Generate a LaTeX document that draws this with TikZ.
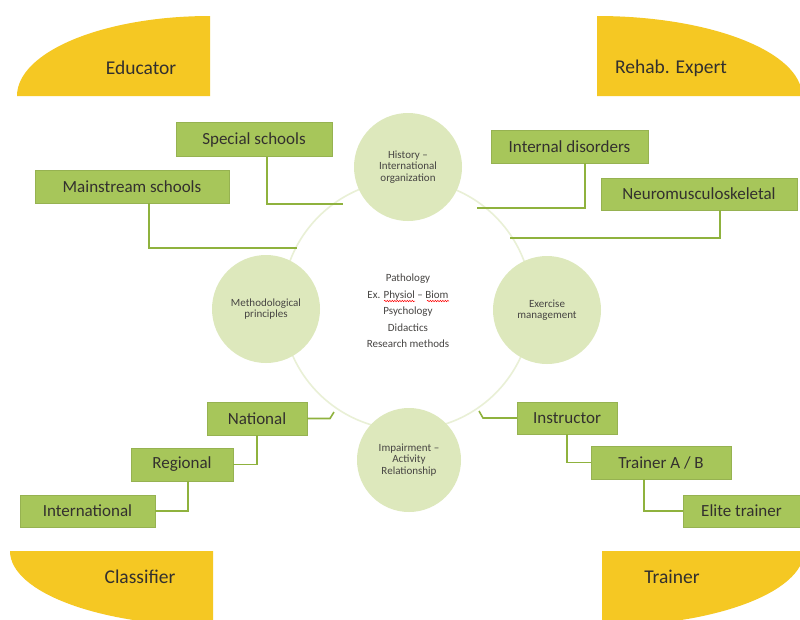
\documentclass[tikz,border=0pt]{standalone}
\usepackage{fontspec}
\setmainfont{Carlito}
\usetikzlibrary{decorations.pathmorphing}
\definecolor{gold}{HTML}{F5C823}
\definecolor{boxg}{HTML}{A7C65A}
\definecolor{lineg}{HTML}{8FB23E}
\definecolor{satg}{HTML}{DDE8BC}
\definecolor{ringg}{HTML}{E9F0D6}
\definecolor{txt}{HTML}{33302E}
\begin{document}
\begin{tikzpicture}[x=1pt,y=-1pt,
  gbox/.style={fill=boxg, draw=boxg!90!black, line width=0.4pt, inner sep=0pt, text=txt, font=\fontsize{17}{20}\selectfont},
  ylab/.style={text=txt, font=\fontsize{19.5}{23}\selectfont},
  sat/.style={circle, fill=satg, inner sep=0pt, minimum size=108pt, align=center, text=txt!90, font=\fontsize{11}{11.5}\selectfont},
  conn/.style={draw=lineg, line width=1.6pt},
  rolefill/.style={fill=gold}]
\useasboundingbox (0,0) rectangle (800,619);
\fill[white] (0,0) rectangle (800,619);

% yellow role shapes
\fill[rolefill] (17,96) arc[start angle=180, end angle=270, x radius=193, y radius=80] -- (210,96) -- cycle;
\fill[rolefill] (597,96) -- (597,16) arc[start angle=270, end angle=360, x radius=205, y radius=80] -- cycle;
\fill[rolefill] (10,551) arc[start angle=180, end angle=90, x radius=203, y radius=75] -- (213,551) -- cycle;
\fill[rolefill] (602,551) -- (804,551) arc[start angle=0, end angle=90, x radius=202, y radius=75] -- cycle;
\node[ylab] (educator) at (141,68) {Educator};
\node[ylab] (rehab) at (671,68) {Rehab. Expert};
\node[ylab] (classifier) at (140,577) {Classifier};
\node[ylab] (trainerrole) at (672,577) {Trainer};

% central ring
\draw[ringg, line width=1.6pt] (407,305) circle[radius=125];
\node[align=center, text=txt!90, font=\fontsize{11}{16.5}\selectfont] (core) at (408,311)
  {Pathology\\Ex. Physiol -- Biom\\Psychology\\Didactics\\Research methods};
\draw[red, line width=0.5pt, decorate, decoration={snake, amplitude=0.7pt, segment length=2.5pt}] (384,301) -- (415,301);
\draw[red, line width=0.5pt, decorate, decoration={snake, amplitude=0.7pt, segment length=2.5pt}] (427,301) -- (449,301);

% satellites
\node[sat] (history) at (408,167) {History --\\International\\organization};
\node[sat] (method) at (266,309) {Methodological\\principles};
\node[sat] (exercise) at (547,310) {Exercise\\management};
\node[sat, minimum size=104pt] (impair) at (409,460) {Impairment --\\Activity\\Relationship};

% boxes
\node[gbox, minimum width=156pt, minimum height=34pt] (special) at (254,139.5) {Special schools};
\node[gbox, minimum width=194pt, minimum height=33pt] (mainstream) at (132,186.5) {Mainstream schools};
\node[gbox, minimum width=157pt, minimum height=33pt] (internal) at (569.5,146.5) {Internal disorders};
\node[gbox, minimum width=196pt, minimum height=32pt] (neuro) at (699,194) {Neuromusculoskeletal};
\node[gbox, minimum width=100pt, minimum height=33pt] (national) at (257,418.5) {National};
\node[gbox, minimum width=102pt, minimum height=33pt] (regional) at (182,464.5) {Regional};
\node[gbox, minimum width=135pt, minimum height=32pt] (international) at (87.5,511) {International};
\node[gbox, minimum width=100pt, minimum height=32pt] (instructor) at (567,418) {Instructor};
\node[gbox, minimum width=140pt, minimum height=33pt] (trainer) at (661,462.5) {Trainer A / B};
\node[gbox, minimum width=117pt, minimum height=32pt] (elite) at (741.5,511) {Elite trainer};

% free ends of connectors
\coordinate (spEnd) at (343,204);
\coordinate (msEnd) at (297,248);
\coordinate (inEnd) at (477,208);
\coordinate (nmEnd) at (510,238);
\coordinate (natBend) at (330,418.5);
\coordinate (natEnd) at (334,412);
\coordinate (insBend) at (483,418);
\coordinate (insEnd) at (479,411);

% connectors
\draw[conn] ([xshift=13pt]special.south) |- (spEnd);
\draw[conn] ([xshift=17pt]mainstream.south) |- (msEnd);
\draw[conn] ([xshift=15.5pt]internal.south) |- (inEnd);
\draw[conn] ([xshift=21pt]neuro.south) |- (nmEnd);
\draw[conn] (national.east) -- (natBend) -- (natEnd);
\draw[conn] (instructor.west) -- (insBend) -- (insEnd);
\draw[conn] (national.south) |- (regional.east);
\draw[conn] ([xshift=6pt]regional.south) |- (international.east);
\draw[conn] (instructor.south) |- (trainer.west);
\draw[conn] ([xshift=-17pt]trainer.south) |- (elite.west);
\end{tikzpicture}
\end{document}
